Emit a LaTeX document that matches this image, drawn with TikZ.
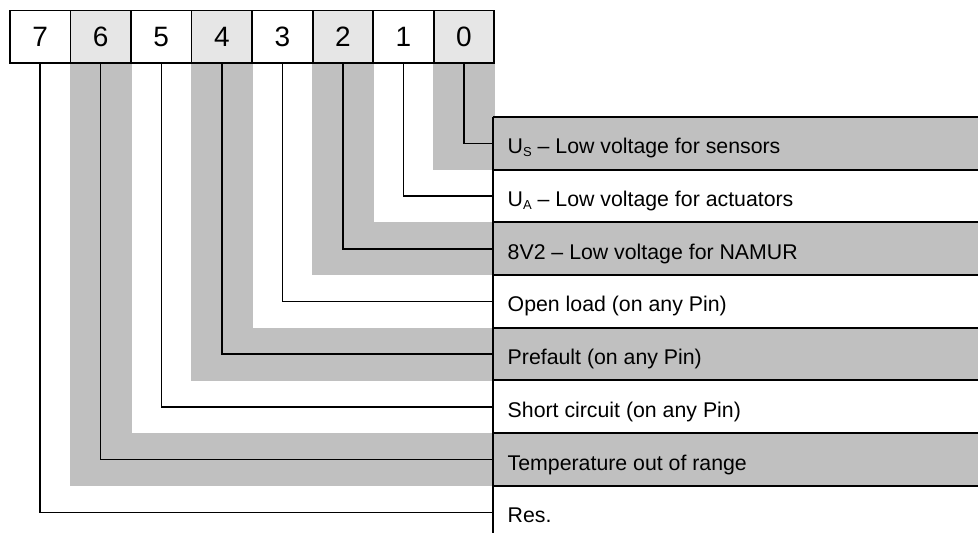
\documentclass[tikz,border=0pt]{standalone}
\usepackage{fontspec}
\setmainfont{Liberation Sans}
\definecolor{lightbox}{HTML}{E6E6E6}
\definecolor{bandgray}{HTML}{C0C0C0}
\newcommand{\subl}[1]{\raisebox{-0.12em}{\fontsize{13}{13}\selectfont #1}}
\begin{document}
\begin{tikzpicture}[x=1pt,y=-1pt,
  bitbox/.style={draw=black,line width=1.8pt,minimum width=60.55pt,minimum height=52.5pt,
    inner sep=0pt,anchor=north west,font=\fontsize{28}{30}\selectfont},
  rowbox/.style={anchor=west,minimum height=52.7pt,minimum width=485pt,inner sep=0pt},
  rowtext/.style={anchor=base west,inner sep=0pt,font=\fontsize{21.3}{24}\selectfont},
  conn/.style={draw=black,line width=1.5pt},
  rowline/.style={draw=black,line width=2pt}]
\useasboundingbox (0,0) rectangle (978,533);

% bit boxes
\node[bitbox,fill=white]    (b7) at (9,9.5) {7};
\node[bitbox,fill=lightbox] (b6) at (69.55,9.5) {6};
\node[bitbox,fill=white]    (b5) at (130.1,9.5) {5};
\node[bitbox,fill=lightbox] (b4) at (190.65,9.5) {4};
\node[bitbox,fill=white]    (b3) at (251.2,9.5) {3};
\node[bitbox,fill=lightbox] (b2) at (311.75,9.5) {2};
\node[bitbox,fill=white]    (b1) at (372.3,9.5) {1};
\node[bitbox,fill=lightbox] (b0) at (432.85,9.5) {0};

% rows
\node[rowbox,fill=bandgray] (r0) at (493,143.35) {};
\node[rowbox]               (r1) at (493,196.05) {};
\node[rowbox,fill=bandgray] (r2) at (493,248.75) {};
\node[rowbox]               (r3) at (493,301.45) {};
\node[rowbox,fill=bandgray] (r4) at (493,354.15) {};
\node[rowbox]               (r5) at (493,406.85) {};
\node[rowbox,fill=bandgray] (r6) at (493,459.55) {};
\node[rowbox]               (r7) at (493,512.25) {};

\node[rowtext] (t0) at ([xshift=14.5pt,yshift=-10.5pt]r0.west) {U\subl{S} \textendash\ Low voltage for sensors};
\node[rowtext] (t1) at ([xshift=14.5pt,yshift=-10.5pt]r1.west) {U\subl{A} \textendash\ Low voltage for actuators};
\node[rowtext] (t2) at ([xshift=14.5pt,yshift=-10.5pt]r2.west) {8V2 \textendash\ Low voltage for NAMUR};
\node[rowtext] (t3) at ([xshift=14.5pt,yshift=-10.5pt]r3.west) {Open load (on any Pin)};
\node[rowtext] (t4) at ([xshift=14.5pt,yshift=-10.5pt]r4.west) {Prefault (on any Pin)};
\node[rowtext] (t5) at ([xshift=14.5pt,yshift=-10.5pt]r5.west) {Short circuit (on any Pin)};
\node[rowtext] (t6) at ([xshift=14.5pt,yshift=-10.5pt]r6.west) {Temperature out of range};
\node[rowtext] (t7) at ([xshift=14.5pt,yshift=-10.5pt]r7.west) {Res.};

% gray bands for even bits
\foreach \k in {0,2,4,6}{
  \fill[bandgray] (b\k.south west) rectangle (b\k.south east |- r\k.south);
  \fill[bandgray] (b\k.south west |- r\k.north) rectangle (r\k.south west);
}

% connectors
\foreach \k in {0,...,7}{
  \draw[conn] (b\k.south) |- (r\k.west);
}

% row separators
\coordinate (vend) at (493,533);
\foreach \k in {0,...,7}{
  \draw[rowline] (r\k.north west) -- (r\k.north east);
}
\draw[rowline] (r0.north west) -- (vend);

% redraw boxes on top
\node[bitbox,fill=white]    at (9,9.5) {7};
\node[bitbox,fill=lightbox] at (69.55,9.5) {6};
\node[bitbox,fill=white]    at (130.1,9.5) {5};
\node[bitbox,fill=lightbox] at (190.65,9.5) {4};
\node[bitbox,fill=white]    at (251.2,9.5) {3};
\node[bitbox,fill=lightbox] at (311.75,9.5) {2};
\node[bitbox,fill=white]    at (372.3,9.5) {1};
\node[bitbox,fill=lightbox] at (432.85,9.5) {0};
\end{tikzpicture}
\end{document}
